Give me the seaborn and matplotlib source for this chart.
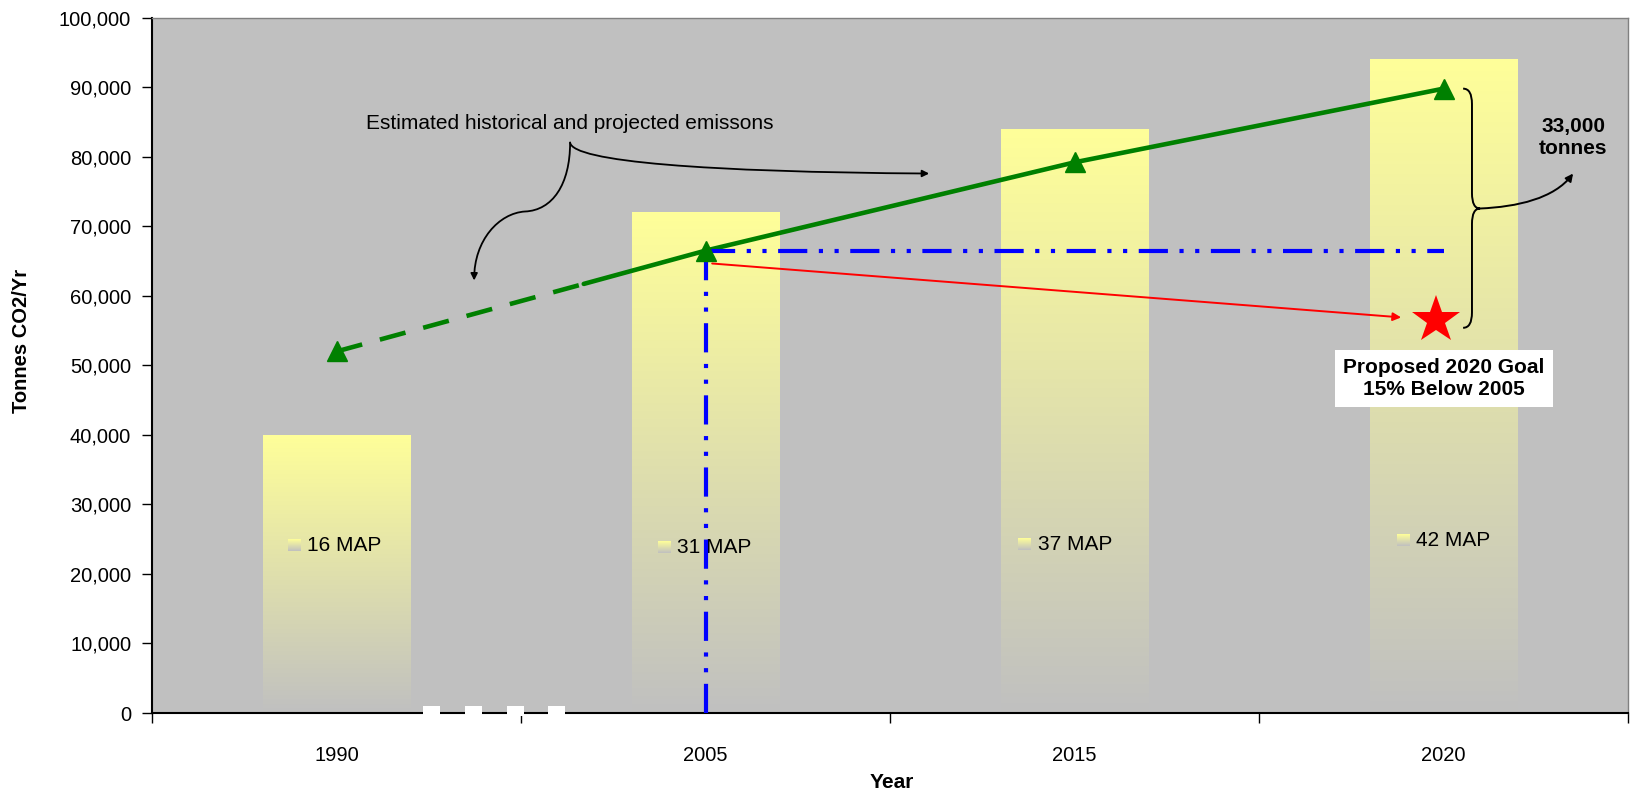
import numpy as np
import pandas as pd
import matplotlib.pyplot as plt
import seaborn as sns
from matplotlib.colors import to_rgb
from matplotlib.patches import FancyArrowPatch, PathPatch, Rectangle
from matplotlib.path import Path
from matplotlib.ticker import FuncFormatter

# data
years = ["1990", "2005", "2015", "2020"]
bar_tonnes = [40000, 72000, 84000, 94000]
trend_tonnes = [52000, 66500, 79200, 89800]
map_labels = ["16 MAP", "31 MAP", "37 MAP", "42 MAP"]
baseline_2005 = 66500
goal_2020 = 56500

# label layout (category offsets / y positions)
map_dx = [-0.08, -0.077, -0.10, -0.075]
map_y = [24100, 23850, 24300, 24850]

sns.set_theme(style="white")
plt.rcParams['font.family'] = ['Liberation Sans', 'DejaVu Sans']
plt.rcParams['text.color'] = 'black'
plt.rcParams['axes.labelcolor'] = 'black'
plt.rcParams['xtick.color'] = 'black'
plt.rcParams['ytick.color'] = 'black'

YELLOW = "#FFFF99"
BG = "#C0C0C0"
GREEN = "#008000"

fig = plt.figure(figsize=(16.31, 7.98), dpi=100)
ax = fig.add_axes([0.0932, 0.1065, 0.9050, 0.8713])
ax.set_facecolor(BG)

df = pd.DataFrame({"Year": years, "Tonnes": bar_tonnes})
sns.barplot(data=df, x="Year", y="Tonnes", order=years, width=0.40,
            color=YELLOW, linewidth=0, ax=ax, zorder=1)


def gradient(n=256):
    top = np.array(to_rgb(YELLOW))
    bot = np.array(to_rgb(BG))
    t = np.linspace(0, 1, n)[:, None]
    g = bot + (top - bot) * t
    return g[:, None, :]


# gradient fill for each bar
for p in list(ax.patches):
    x0, w, h = p.get_x(), p.get_width(), p.get_height()
    p.set_facecolor("none")
    im = ax.imshow(gradient(), extent=[x0, x0 + w, 0, h], origin="lower",
                   aspect="auto", interpolation="bilinear", zorder=1.5)
    im.set_clip_path(p)

# MAP labels with small gradient keys
for i, lab in enumerate(map_labels):
    tx = i + map_dx[i]
    ax.imshow(gradient(), extent=[tx - 0.052, tx - 0.017, map_y[i] - 850, map_y[i] + 850],
              origin="lower", aspect="auto", interpolation="bilinear", zorder=3)
    ax.text(tx, map_y[i], lab, fontsize=15, ha="left", va="center", zorder=3)

# trend line: dashed historical, solid projected (solid starts a bit before 2005)
split = 0.67
y_split = np.interp(split, [0, 1], trend_tonnes[:2])
ax.plot([0, split], [trend_tonnes[0], y_split], color=GREEN, lw=3.3, dashes=(5.8, 4),
        solid_capstyle="butt", dash_capstyle="butt", zorder=4)
sns.lineplot(x=[split, 1, 2, 3], y=[y_split] + trend_tonnes[1:], color=GREEN, lw=3.3,
             ax=ax, zorder=4)
ax.plot(range(4), trend_tonnes, ls="none", marker="^", ms=14, color=GREEN, zorder=4.5)

# 2005 baseline (dash-dot-dot)
dd = (7, 2.77, 1, 2.77, 1, 2.77)
ax.plot([1, 1], [0, baseline_2005], color="blue", lw=3, dashes=dd, zorder=4.2)
ax.plot([1, 3], [baseline_2005, baseline_2005], color="blue", lw=3, dashes=dd, zorder=4.2)

# red arrow to the goal and star
ax.annotate("", xy=(2.885, 56900), xytext=(1.018, 64650),
            arrowprops=dict(arrowstyle="-|>", color="red", lw=1.4,
                            mutation_scale=12, shrinkA=0, shrinkB=0), zorder=5)
ax.plot([2.98], [goal_2020], ls="none", marker="*", ms=36, color="red",
        markeredgewidth=0, zorder=5)

ax.text(3.0, 48130, "Proposed 2020 Goal\n15% Below 2005", fontsize=15,
        fontweight="bold", ha="center", va="center", linespacing=1.2, zorder=6,
        bbox=dict(facecolor="white", edgecolor="none", pad=6))

# curly brace on the right
x0, x1, xt = 3.053, 3.077, 3.099
ytop, ybot, ymid, d = 89800, 55400, 72560, 2200
verts = [(x0, ytop), (x1, ytop), (x1, ytop - d), (x1, ymid + d),
         (x1, ymid), (xt, ymid),
         (x1, ymid), (x1, ymid - d), (x1, ybot + d),
         (x1, ybot), (x0, ybot)]
codes = [Path.MOVETO, Path.CURVE3, Path.CURVE3, Path.LINETO,
         Path.CURVE3, Path.CURVE3,
         Path.CURVE3, Path.CURVE3, Path.LINETO,
         Path.CURVE3, Path.CURVE3]
ax.add_patch(PathPatch(Path(verts, codes), fill=False, lw=1.4, color="black", zorder=5))

ax.add_patch(FancyArrowPatch(
    path=Path([(3.099, 72560), (3.2, 72800), (3.3, 74000), (3.351, 77590)],
              [Path.MOVETO, Path.CURVE4, Path.CURVE4, Path.CURVE4]),
    arrowstyle="-|>", mutation_scale=11, lw=1.4, color="black", zorder=5))
ax.text(3.351, 82760, "33,000\ntonnes", fontsize=15, fontweight="bold",
        ha="center", va="center", linespacing=1.25, zorder=6)

# "Estimated historical ..." callout
ax.text(0.633, 84800, "Estimated historical and projected emissons", fontsize=15,
        ha="center", va="center", zorder=6)
ax.add_patch(FancyArrowPatch(
    path=Path([(0.633, 82040), (0.633, 76000), (0.585, 72300), (0.511, 72130),
               (0.44, 71900), (0.373, 68000), (0.373, 62210)],
              [Path.MOVETO, Path.CURVE4, Path.CURVE4, Path.CURVE4,
               Path.CURVE4, Path.CURVE4, Path.CURVE4]),
    arrowstyle="-|>", mutation_scale=10, lw=1.3, color="black", zorder=5))
ax.add_patch(FancyArrowPatch(
    path=Path([(0.633, 82040), (0.64, 79300), (1.0, 77800), (1.606, 77590)],
              [Path.MOVETO, Path.CURVE4, Path.CURVE4, Path.CURVE4]),
    arrowstyle="-|>", mutation_scale=10, lw=1.3, color="black", zorder=5))

# white break marks on the x axis
for bx in [0.234, 0.348, 0.462, 0.573]:
    ax.add_patch(Rectangle((bx, -400), 0.046, 1400, facecolor="white",
                           edgecolor="none", clip_on=False, zorder=10))

# axes, ticks, labels
ax.set_xlim(-0.5, 3.5)
ax.set_ylim(0, 100000)
ax.set_yticks(range(0, 100001, 10000))
ax.yaxis.set_major_formatter(FuncFormatter(lambda v, p: f"{int(v):,}"))
ax.set_xticks([-0.5, 0.5, 1.5, 2.5, 3.5])
ax.set_xticklabels([])
ax.set_xticks(range(4), minor=True)
ax.set_xticklabels(years, minor=True)
ax.tick_params(axis="x", which="major", bottom=True, length=7, width=1,
               color="black", direction="out")
ax.tick_params(axis="x", which="minor", bottom=True, length=0, pad=24, labelsize=14.5,
               labelcolor="black")
ax.tick_params(axis="y", left=True, length=7, width=1, color="black",
               direction="out", labelsize=14.5, pad=8, labelcolor="black")
ax.set_xlabel("")
ax.set_ylabel("")
ax.grid(False)

for side in ["left", "bottom"]:
    ax.spines[side].set_color("black")
    ax.spines[side].set_linewidth(1.5)
for side in ["top", "right"]:
    ax.spines[side].set_color("#808080")
    ax.spines[side].set_linewidth(1)

fig.text(0.5465, 0.020, "Year", fontsize=15, fontweight="bold", ha="center", va="center")
fig.text(0.0129, 0.573, "Tonnes CO2/Yr", fontsize=14.5, fontweight="bold",
         rotation=90, ha="center", va="center")

fig.savefig("out.png", dpi=100, facecolor="white")
